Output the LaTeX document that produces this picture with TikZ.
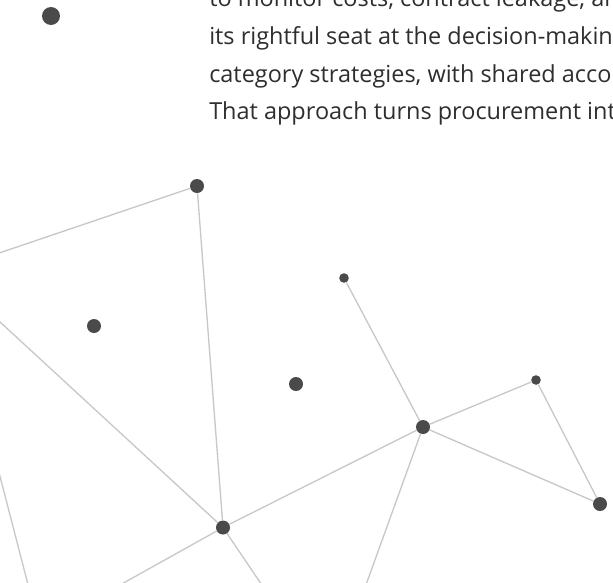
\documentclass[tikz,border=0pt]{standalone}
\usepackage{fontspec}
\setmainfont{Open Sans}
\usepackage{xcolor}
\usepackage{tikz}
\usetikzlibrary{arrows}
\definecolor{dotgray}{HTML}{4A4A4A}
\definecolor{linkgray}{HTML}{C8C8C8}
\definecolor{textgray}{HTML}{2E2E2E}
\tikzset{
	main node/.style={circle,fill=dotgray,inner sep=0pt},
	big node/.style={main node,minimum size=13.5pt},
	mid node/.style={main node,minimum size=10.5pt},
	small node/.style={main node,minimum size=7.2pt},
	link/.style={draw=linkgray,line width=1pt},
	line text/.style={anchor=base west,inner sep=0pt,text=textgray,font=\fontsize{17.6}{20}\selectfont}
}

\begin{document}
\begin{tikzpicture}[x=0.75pt,y=-0.75pt]
	\useasboundingbox (0,0) rectangle (613,582);
	\clip (0,0) rectangle (613,582);
	% text lines
	\foreach \txt [count=\k] in {{to monitor costs, contract leakage, an},{its rightful seat at the decision-making},{category strategies, with shared accou},{That approach turns procurement int}}
		\node [line text] (t\k) at (209,{6.5+37.8*(\k-1)}) {\txt};
	% dots
	\node [big node] (1) at (51,16) {};
	\node [mid node] (2) at (197,186) {};
	\node [small node] (3) at (344,278) {};
	\node [mid node] (4) at (94,326) {};
	\node [mid node] (5) at (296,384) {};
	\node [mid node] (6) at (423,427) {};
	\node [small node] (7) at (536,380) {};
	\node [mid node] (8) at (600,504) {};
	\node [mid node] (9) at (223,527.5) {};
	% loose ends
	\coordinate (e1) at (-20,259.5);
	\coordinate (e2) at (-20,303.5);
	\coordinate (e3) at (93,600);
	\coordinate (e4) at (272,600);
	\coordinate (e5) at (360.5,600);
	\coordinate (e6) at (-5,457);
	\coordinate (e7) at (32,600);
	% links
	\draw [link] (2) -- (e1);
	\draw [link] (2) -- (9);
	\draw [link] (e2) -- (9);
	\draw [link] (3) -- (6);
	\draw [link] (6) -- (7);
	\draw [link] (7) -- (8);
	\draw [link] (6) -- (8);
	\draw [link] (9) -- (6);
	\draw [link] (9) -- (e3);
	\draw [link] (9) -- (e4);
	\draw [link] (6) -- (e5);
	\draw [link] (e6) -- (e7);
\end{tikzpicture}
\end{document}
